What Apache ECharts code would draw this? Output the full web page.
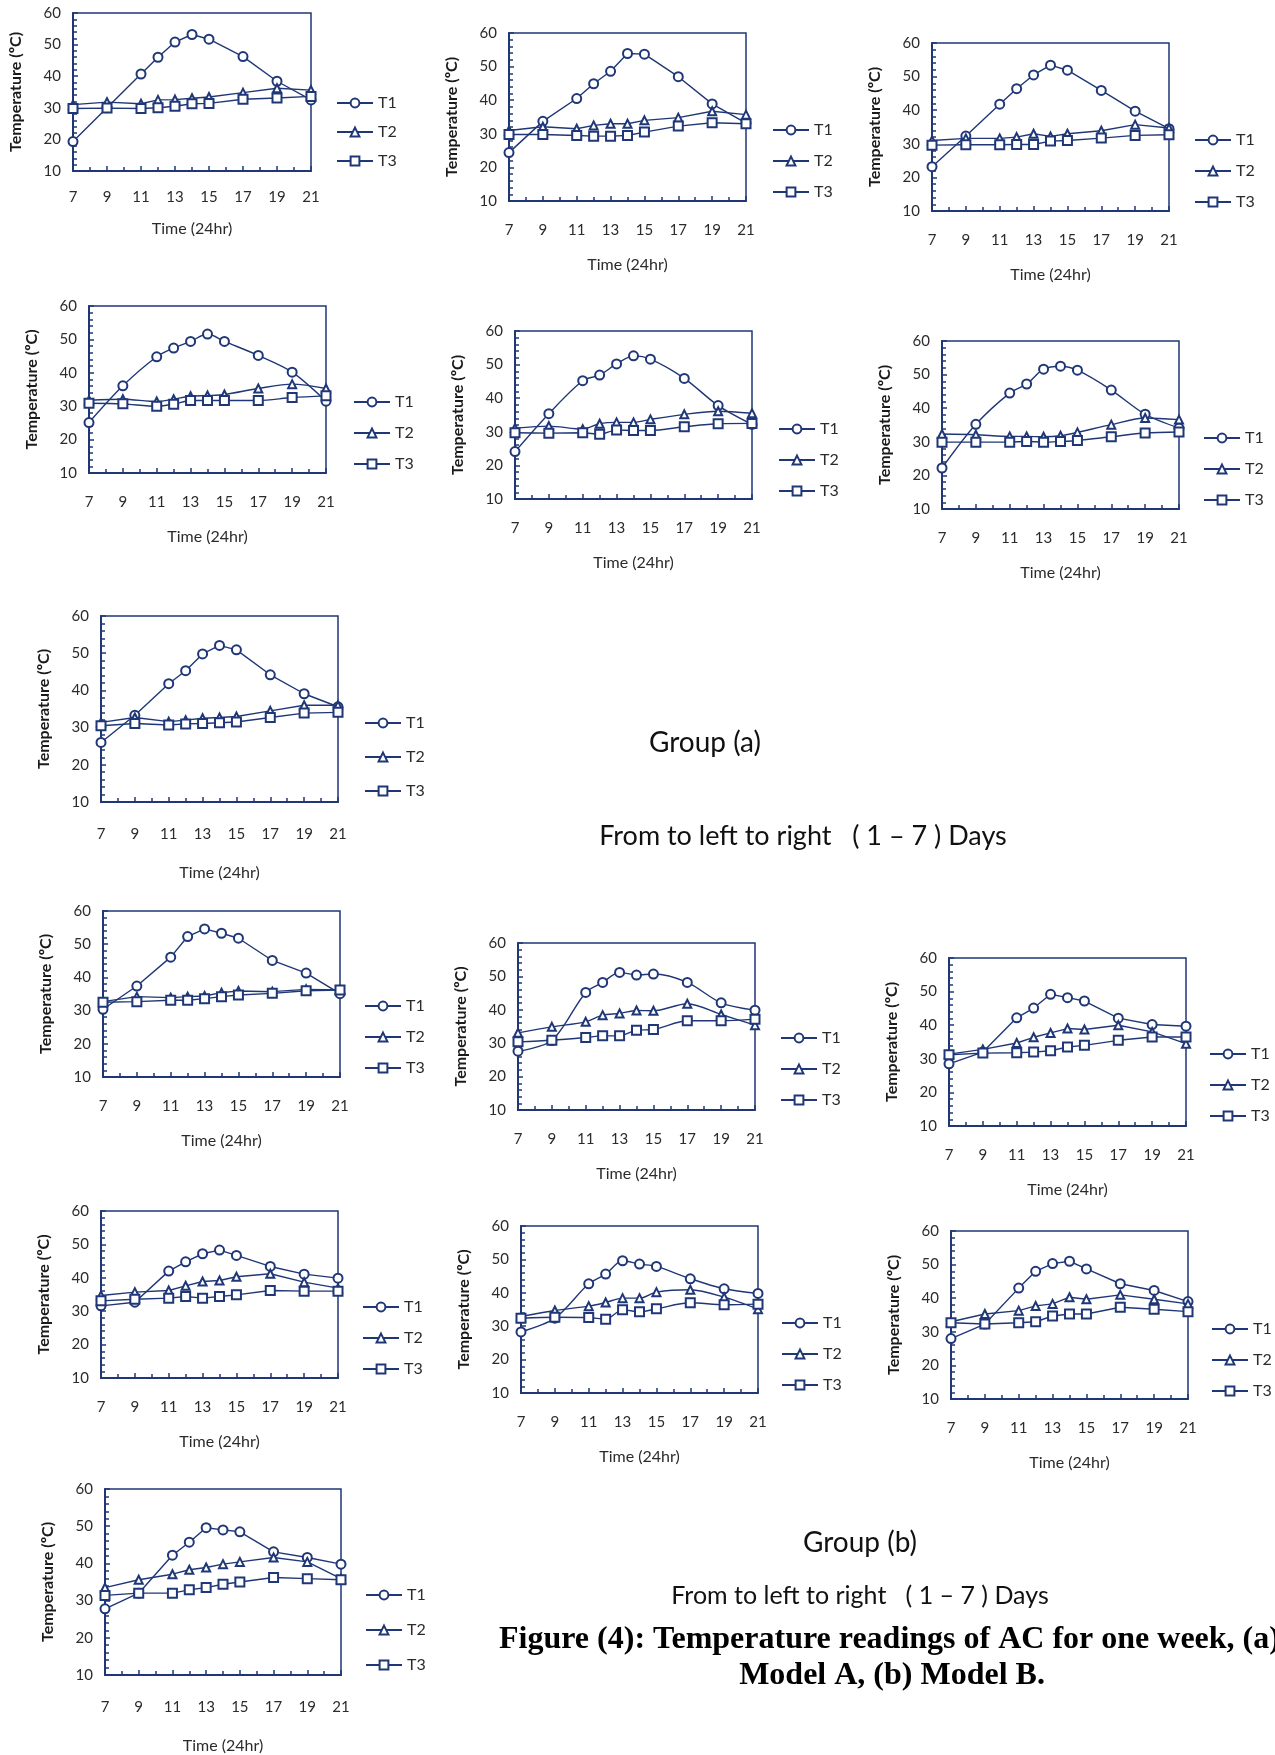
<!DOCTYPE html>
<html>
<head>
<meta charset="utf-8">
<script src="https://cdn.jsdelivr.net/npm/echarts@6/dist/echarts.min.js"></script>
<style>
  body { margin: 0; background: #fff; }
  #main { width: 1275px; height: 1755px; }
</style>
</head>
<body>
<div id="main"></div>
<script>
// hours of the readings (x values)
const hours = [7, 9, 11, 12, 13, 14, 15, 17, 19, 21];

// Group (a), Model A, days 1-7
const a1_T1 = [19.3, 30.0, 40.7, 46.0, 50.8, 53.2, 51.7, 46.2, 38.4, 32.5];
const a1_T2 = [31.0, 31.8, 31.3, 32.5, 32.6, 33.0, 33.4, 34.8, 36.2, 35.6];
const a1_T3 = [29.8, 29.9, 29.8, 30.0, 30.5, 31.3, 31.4, 32.7, 33.1, 33.6];

const a2_T1 = [24.4, 33.7, 40.5, 44.9, 48.6, 53.9, 53.7, 47.0, 38.9, 33.2];
const a2_T2 = [31.0, 32.1, 31.5, 32.5, 33.0, 33.0, 34.0, 34.8, 36.7, 35.7];
const a2_T3 = [29.8, 29.8, 29.5, 29.3, 29.3, 29.5, 30.5, 32.3, 33.3, 33.0];

const a3_T1 = [23.2, 32.3, 41.8, 46.4, 50.5, 53.4, 51.9, 45.9, 39.7, 34.5];
const a3_T2 = [31.0, 31.6, 31.6, 32.0, 33.0, 32.2, 33.0, 33.9, 35.7, 34.7];
const a3_T3 = [29.6, 29.7, 29.7, 29.8, 29.8, 30.8, 31.0, 31.7, 32.5, 32.7];

const a4_T1 = [25.1, 36.1, 44.8, 47.4, 49.4, 51.6, 49.4, 45.2, 40.2, 31.5];
const a4_T2 = [31.8, 32.1, 31.4, 32.1, 33.0, 33.2, 33.5, 35.3, 36.6, 35.3];
const a4_T3 = [30.9, 30.7, 30.0, 30.6, 31.7, 31.7, 31.7, 31.7, 32.6, 33.1];

const a5_T1 = [24.1, 35.4, 45.2, 46.9, 50.2, 52.6, 51.6, 45.9, 37.8, 32.2];
const a5_T2 = [31.1, 31.7, 30.8, 32.4, 32.8, 32.8, 33.7, 35.2, 36.1, 35.5];
const a5_T3 = [29.7, 29.6, 29.7, 29.3, 30.5, 30.4, 30.4, 31.5, 32.4, 32.5];

const a6_T1 = [22.2, 35.2, 44.5, 47.2, 51.6, 52.5, 51.3, 45.4, 38.2, 34.1];
const a6_T2 = [32.3, 32.1, 31.6, 31.6, 31.5, 31.8, 32.8, 35.1, 37.1, 36.6];
const a6_T3 = [29.9, 29.9, 29.9, 30.1, 29.9, 30.1, 30.4, 31.5, 32.6, 32.9];

const a7_T1 = [26.0, 33.3, 41.8, 45.3, 49.8, 52.1, 50.9, 44.2, 39.1, 35.6];
const a7_T2 = [31.4, 32.7, 31.6, 32.0, 32.5, 32.7, 33.0, 34.5, 36.0, 36.0];
const a7_T3 = [30.5, 31.1, 30.7, 31.0, 31.1, 31.3, 31.5, 32.7, 33.9, 34.1];

// Group (b), Model B, days 1-7
const b1_T1 = [30.4, 37.4, 46.1, 52.3, 54.6, 53.3, 51.8, 45.1, 41.3, 35.1];
const b1_T2 = [32.7, 34.2, 33.9, 34.2, 34.4, 35.4, 35.9, 35.7, 36.4, 36.2];
const b1_T3 = [32.5, 32.7, 33.1, 33.1, 33.6, 34.2, 34.7, 35.2, 36.0, 36.2];

const b2_T1 = [27.6, 30.8, 45.2, 48.2, 51.2, 50.4, 50.7, 48.2, 42.1, 39.9];
const b2_T2 = [33.1, 34.9, 36.4, 38.4, 38.9, 39.8, 39.7, 41.8, 38.6, 35.4];
const b2_T3 = [30.4, 30.9, 31.7, 32.2, 32.2, 33.9, 34.1, 36.7, 36.7, 37.2];

const b3_T1 = [28.5, 32.0, 42.2, 45.1, 49.2, 48.2, 47.2, 42.1, 40.2, 39.7];
const b3_T2 = [31.4, 32.8, 34.7, 36.4, 37.7, 39.0, 38.7, 40.0, 38.0, 34.5];
const b3_T3 = [31.2, 31.7, 31.8, 32.0, 32.4, 33.5, 34.0, 35.5, 36.5, 36.5];

const b4_T1 = [31.6, 32.7, 42.0, 44.8, 47.2, 48.3, 46.7, 43.4, 41.1, 39.9];
const b4_T2 = [34.7, 35.7, 36.2, 37.6, 38.9, 39.2, 40.3, 41.2, 38.7, 36.9];
const b4_T3 = [33.1, 33.6, 33.9, 34.4, 33.9, 34.4, 34.9, 36.2, 36.0, 36.0];

const b5_T1 = [28.3, 32.4, 42.7, 45.6, 49.6, 48.6, 47.9, 44.2, 41.2, 39.8];
const b5_T2 = [32.9, 34.7, 36.0, 37.1, 38.4, 38.4, 40.2, 40.9, 38.7, 35.1];
const b5_T3 = [32.4, 32.7, 32.6, 32.1, 34.9, 34.3, 35.2, 37.0, 36.4, 36.6];

const b6_T1 = [28.0, 32.3, 43.0, 48.0, 50.3, 51.0, 48.7, 44.3, 42.3, 39.0];
const b6_T2 = [33.0, 35.3, 36.3, 37.7, 38.3, 40.3, 39.7, 41.0, 39.7, 38.3];
const b6_T3 = [32.7, 32.3, 32.7, 33.0, 34.7, 35.3, 35.3, 37.3, 36.7, 36.0];

const b7_T1 = [27.8, 32.0, 42.2, 45.7, 49.6, 49.0, 48.5, 43.1, 41.6, 39.8];
const b7_T2 = [33.5, 35.6, 37.1, 38.3, 38.9, 39.8, 40.4, 41.6, 40.4, 35.9];
const b7_T3 = [31.4, 32.0, 32.0, 32.9, 33.5, 34.4, 35.0, 36.2, 35.9, 35.6];

const seriesNames = ['T1', 'T2', 'T3'];
const yTicks = { min: 10, max: 60, step: 10 };
const xTicks = { min: 7, max: 21, step: 2 };

const days = [
  [a1_T1, a1_T2, a1_T3], [a2_T1, a2_T2, a2_T3], [a3_T1, a3_T2, a3_T3],
  [a4_T1, a4_T2, a4_T3], [a5_T1, a5_T2, a5_T3], [a6_T1, a6_T2, a6_T3],
  [a7_T1, a7_T2, a7_T3],
  [b1_T1, b1_T2, b1_T3], [b2_T1, b2_T2, b2_T3], [b3_T1, b3_T2, b3_T3],
  [b4_T1, b4_T2, b4_T3], [b5_T1, b5_T2, b5_T3], [b6_T1, b6_T2, b6_T3],
  [b7_T1, b7_T2, b7_T3]
];

// plot boxes: [left, top, width, height], legend [left, firstRowY, rowStep],
// x label margin, x name gap, smoothing
const layout = [
  { g: [73, 13, 238, 158], lg: [336, 103, 29], lm: 19, ng: 50, sm: 0 },
  { g: [509, 33, 237, 168], lg: [772, 130, 31], lm: 22, ng: 56, sm: 0 },
  { g: [932, 43, 237, 168], lg: [1194, 140, 31], lm: 22, ng: 56, sm: 0 },
  { g: [89, 306, 237, 167], lg: [353, 402, 31], lm: 22, ng: 56, sm: 0.3 },
  { g: [515, 331, 237, 168], lg: [778, 429, 31], lm: 22, ng: 56, sm: 0.3 },
  { g: [942, 341, 237, 168], lg: [1203, 438, 31], lm: 22, ng: 56, sm: 0.3 },
  { g: [101, 616, 237, 186], lg: [364, 723, 34], lm: 25, ng: 63, sm: 0 },
  { g: [103, 911, 237, 166], lg: [364, 1006, 31], lm: 22, ng: 56, sm: 0 },
  { g: [518, 943, 237, 167], lg: [780, 1038, 31], lm: 22, ng: 56, sm: 0.3 },
  { g: [949, 958, 237, 168], lg: [1209, 1054, 31], lm: 22, ng: 56, sm: 0 },
  { g: [101, 1211, 237, 167], lg: [362, 1307, 31], lm: 22, ng: 56, sm: 0 },
  { g: [521, 1226, 237, 167], lg: [781, 1323, 31], lm: 22, ng: 56, sm: 0.3 },
  { g: [951, 1231, 237, 168], lg: [1211, 1329, 31], lm: 22, ng: 56, sm: 0 },
  { g: [105, 1489, 236, 186], lg: [365, 1595, 35], lm: 25, ng: 63, sm: 0 }
];

const navy = '#1f3776';
const textColor = '#2b2b2b';
const font = 'Lato, "Open Sans", sans-serif';
const symbols = ['emptyCircle', 'emptyTriangle', 'emptyRect'];
const symbolSizes = [9, 8, 9];

const grid = [], xAxis = [], yAxis = [], legend = [], series = [];

layout.forEach((L, i) => {
  grid.push({
    left: L.g[0], top: L.g[1], width: L.g[2], height: L.g[3],
    show: true, borderColor: navy, borderWidth: 1.5, containLabel: false
  });
  xAxis.push({
    gridIndex: i, type: 'value',
    min: xTicks.min, max: xTicks.max, interval: xTicks.step,
    name: 'Time (24hr)', nameLocation: 'middle', nameGap: L.ng,
    nameTextStyle: { fontFamily: font, fontSize: 16, color: textColor },
    axisLine: { lineStyle: { color: navy, width: 2 } },
    axisTick: { inside: true, length: 5, lineStyle: { color: navy, width: 1.5 } },
    minorTick: { show: true, splitNumber: 2, length: 4, lineStyle: { color: navy, width: 1.5 } },
    axisLabel: { fontFamily: font, fontSize: 15, color: textColor, margin: L.lm },
    splitLine: { show: false }
  });
  yAxis.push({
    gridIndex: i, type: 'value',
    min: yTicks.min, max: yTicks.max, interval: yTicks.step,
    name: 'Temperature (ºC)', nameLocation: 'middle', nameGap: 49, nameRotate: 90,
    nameTextStyle: { fontFamily: font, fontSize: 16, fontWeight: 'bold', color: '#1a1a1a' },
    axisLine: { lineStyle: { color: navy, width: 2 } },
    axisTick: { inside: true, length: 5, lineStyle: { color: navy, width: 1.5 } },
    minorTick: { show: true, splitNumber: 5, length: 4, lineStyle: { color: navy, width: 1.5 } },
    axisLabel: { fontFamily: font, fontSize: 15, color: textColor, margin: 12 },
    splitLine: { show: false }
  });
  legend.push({
    orient: 'vertical', left: L.lg[0], top: L.lg[1] - 8, padding: 0,
    itemGap: L.lg[2] - 16, itemWidth: 36, itemHeight: 11,
    selectedMode: false, data: seriesNames,
    textStyle: { fontFamily: font, fontSize: 16, color: textColor }
  });
  days[i].forEach((vals, k) => {
    series.push({
      name: seriesNames[k], type: 'line',
      xAxisIndex: i, yAxisIndex: i,
      data: hours.map((h, j) => [h, vals[j]]),
      smooth: L.sm,
      symbol: symbols[k], symbolSize: symbolSizes[k],
      lineStyle: { color: navy, width: 1.4 },
      itemStyle: { color: navy, borderWidth: 1.2 },
      z: 2 + k
    });
  });
});

const graphic = [
  { type: 'text', style: { text: 'Group (a)', x: 705, y: 743, textAlign: 'center', textVerticalAlign: 'middle', font: '28px ' + font, fill: '#111' } },
  { type: 'text', style: { text: 'From to left to right   ( 1 – 7 ) Days', x: 803, y: 836, textAlign: 'center', textVerticalAlign: 'middle', font: '27px ' + font, fill: '#111' } },
  { type: 'text', style: { text: 'Group (b)', x: 860, y: 1543, textAlign: 'center', textVerticalAlign: 'middle', font: '28px ' + font, fill: '#111' } },
  { type: 'text', style: { text: 'From to left to right   ( 1 – 7 ) Days', x: 860, y: 1596, textAlign: 'center', textVerticalAlign: 'middle', font: '25px ' + font, fill: '#111' } },
  { type: 'text', style: { text: 'Figure (4): Temperature readings of AC for one week, (a)', x: 499, y: 1640, textAlign: 'left', textVerticalAlign: 'middle', font: 'bold 32px "Liberation Serif", serif', fill: '#000' } },
  { type: 'text', style: { text: 'Model A, (b) Model B.', x: 892, y: 1676, textAlign: 'center', textVerticalAlign: 'middle', font: 'bold 32px "Liberation Serif", serif', fill: '#000' } }
];

const chart = echarts.init(document.getElementById('main'), null, { renderer: 'canvas' });
chart.setOption({
  animation: false,
  backgroundColor: '#fff',
  grid, xAxis, yAxis, legend, series, graphic
});
</script>
</body>
</html>
